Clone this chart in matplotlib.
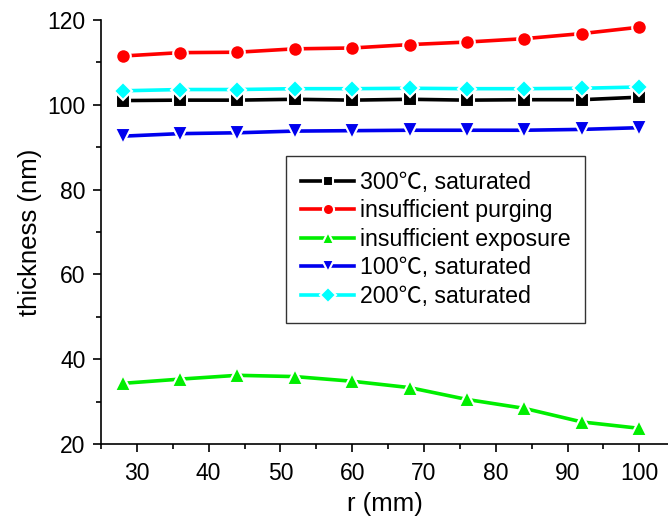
import matplotlib
matplotlib.use("Agg")
import matplotlib.pyplot as plt
from matplotlib.ticker import MultipleLocator
from matplotlib.lines import Line2D

plt.rcParams['font.family'] = ['Liberation Sans', 'Noto Sans CJK SC', 'DejaVu Sans']

r = [28, 36, 44, 52, 60, 68, 76, 84, 92, 100]
t300 = [101.0, 101.1, 101.1, 101.3, 101.1, 101.3, 101.1, 101.2, 101.2, 101.8]
purge = [111.5, 112.3, 112.4, 113.2, 113.4, 114.2, 114.8, 115.6, 116.8, 118.3]
expo = [34.3, 35.3, 36.2, 35.9, 34.8, 33.3, 30.5, 28.4, 25.2, 23.7]
t100 = [92.6, 93.2, 93.4, 93.8, 93.9, 94.0, 94.0, 94.0, 94.2, 94.6]
t200 = [103.3, 103.6, 103.6, 103.8, 103.8, 103.9, 103.8, 103.8, 103.9, 104.2]

labels = ["300℃, saturated", "insufficient purging", "insufficient exposure",
          "100℃, saturated", "200℃, saturated"]
series = [t300, purge, expo, t100, t200]
colors = ["#000000", "#ff0000", "#00ee00", "#0000ee", "#00ffff"]
markers = ["s", "o", "^", "v", "D"]
msizes = [9.5, 10.5, 11.5, 11.5, 9.5]
leg_msizes = [7.5, 8, 9, 9, 8]

fig = plt.figure(figsize=(6.68, 5.18), dpi=100)
ax = fig.add_axes([101/668, 74/518, 567/668, 424/518])

for y, lab, c, m, ms in zip(series, labels, colors, markers, msizes):
    ax.plot(r, y, color=c, marker=m, markersize=ms, linewidth=2.6,
            markeredgecolor='white', markeredgewidth=1.5, markerfacecolor=c,
            label=lab)

ax.set_xlim(25, 104)
ax.set_ylim(20, 120)
ax.xaxis.set_major_locator(MultipleLocator(10))
ax.xaxis.set_minor_locator(MultipleLocator(5))
ax.yaxis.set_major_locator(MultipleLocator(20))
ax.yaxis.set_minor_locator(MultipleLocator(10))
ax.spines['top'].set_visible(False)
ax.spines['right'].set_visible(False)
for s in ['left', 'bottom']:
    ax.spines[s].set_linewidth(1.2)
ax.tick_params(which='major', direction='out', length=6, width=1.2, labelsize=16.5, pad=5)
ax.tick_params(axis='x', which='major', pad=7)
ax.tick_params(which='minor', direction='out', length=3.5, width=1.2)
ax.set_xlabel("r (mm)", fontsize=18.5, labelpad=5)
ax.set_ylabel("thickness (nm)", fontsize=18.5, labelpad=4)

handles = [Line2D([], [], color=c, marker=m, markersize=ms, linewidth=2.6,
                  markeredgecolor='white', markeredgewidth=1.5, markerfacecolor=c)
           for c, m, ms in zip(colors, markers, leg_msizes)]
leg = ax.legend(handles, labels, loc='upper left', bbox_to_anchor=(0.327, 0.679),
                borderaxespad=0, fontsize=16.7, numpoints=1, handlelength=2.3,
                handletextpad=0.25, labelspacing=0.24, fancybox=False,
                frameon=True, borderpad=0.63)
leg.get_frame().set_edgecolor('black')
leg.get_frame().set_linewidth(1.0)

fig.savefig("out.png", dpi=100)
